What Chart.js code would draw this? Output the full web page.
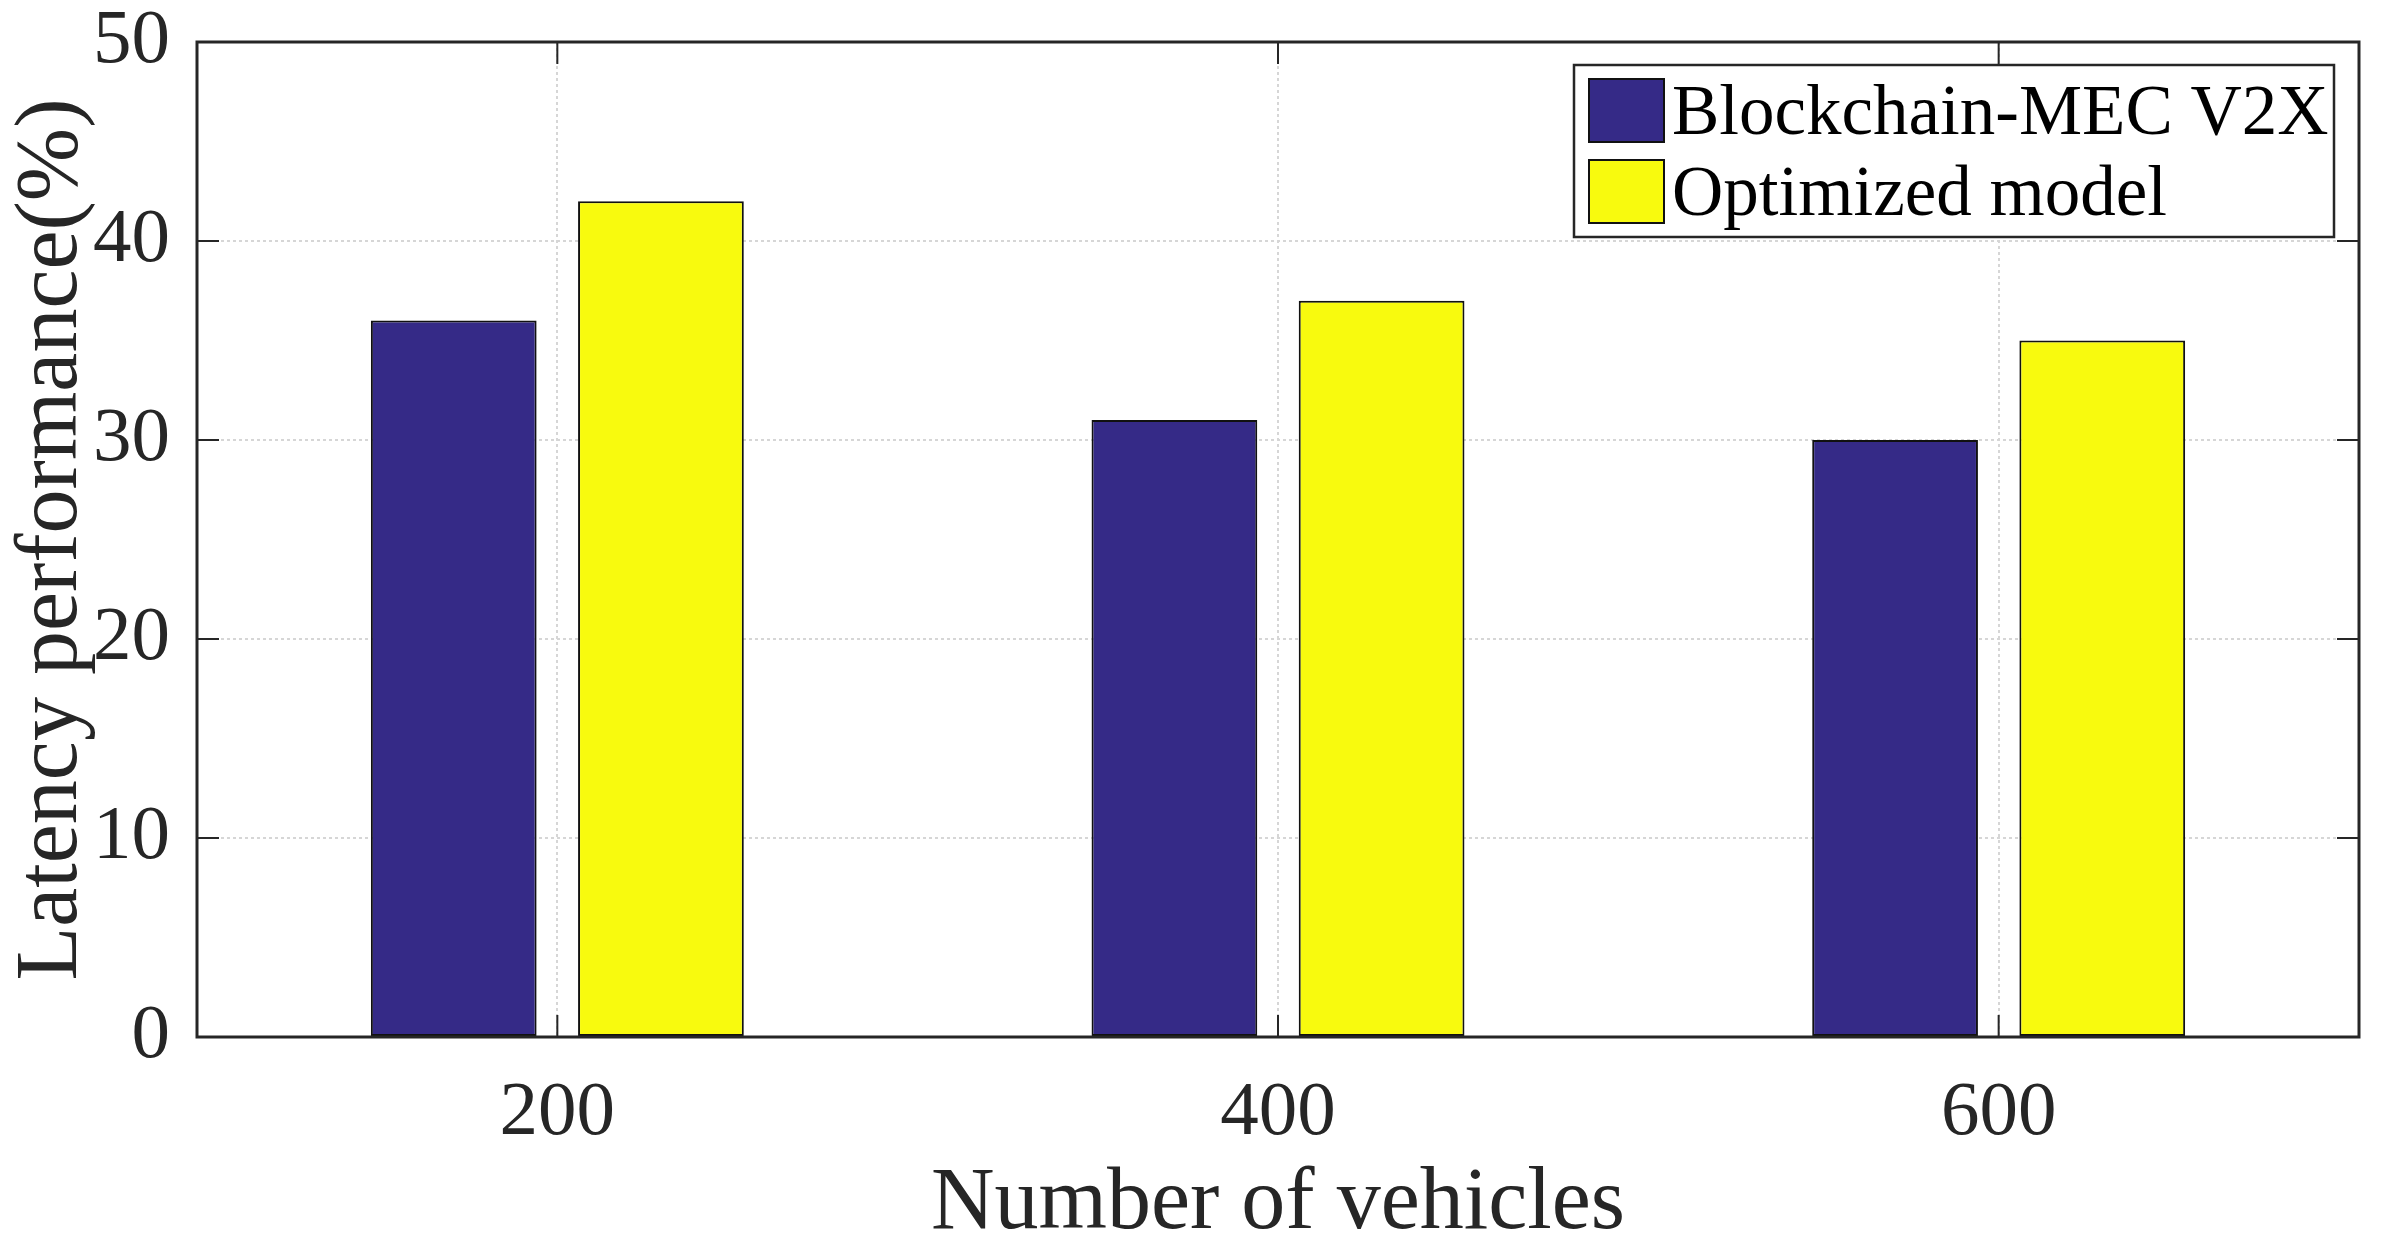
<!DOCTYPE html>
<html>
<head>
<meta charset="utf-8">
<script src="https://cdn.jsdelivr.net/npm/chart.js@4.4.0/dist/chart.umd.min.js"></script>
<style>
html, body { margin: 0; padding: 0; background: #fff; }
#wrap { width: 2385px; height: 1251px; }
</style>
</head>
<body>
<div id="wrap"><canvas id="chart"></canvas></div>
<script>
const vehicleCounts = ['200', '400', '600'];
const blockchainMec = [36, 31, 30];
const optimizedModel = [42, 37, 35];
const yTicks = [0, 10, 20, 30, 40, 50];
const seriesNames = ['Blockchain-MEC V2X', 'Optimized model'];
const seriesColors = ['#352a87', '#f8fa0e'];

const serif = '"Liberation Serif", "Times New Roman", serif';
const ink = '#262626';

// matlab style box with inward ticks
const boxPlugin = {
    id: 'box',
    afterDatasetsDraw(chart) {
        const {ctx, chartArea: a, scales: {x, y}} = chart;
        ctx.save();
        ctx.strokeStyle = ink;
        ctx.lineWidth = 2;
        ctx.beginPath();
        for (let v of yTicks) {
            let py = y.getPixelForValue(v);
            ctx.moveTo(a.left, py); ctx.lineTo(a.left + 22, py);
            ctx.moveTo(a.right, py); ctx.lineTo(a.right - 22, py);
        }
        vehicleCounts.forEach((c, i) => {
            let px = x.getPixelForValue(i);
            ctx.moveTo(px, a.bottom); ctx.lineTo(px, a.bottom - 22);
            ctx.moveTo(px, a.top); ctx.lineTo(px, a.top + 22);
        });
        ctx.stroke();
        ctx.lineWidth = 3;
        ctx.strokeRect(a.left, a.top, a.right - a.left, a.bottom - a.top);
        ctx.restore();
    }
};

// legend box in the top right corner
const legendPlugin = {
    id: 'boxLegend',
    afterDraw(chart) {
        const ctx = chart.ctx;
        const a = chart.chartArea;
        const bx = 1574, by = a.top + 23, bw = 760, bh = 172;
        ctx.save();
        ctx.fillStyle = '#fff';
        ctx.fillRect(bx, by, bw, bh);
        ctx.strokeStyle = ink;
        ctx.lineWidth = 2.5;
        ctx.strokeRect(bx, by, bw, bh);
        ctx.font = `71px ${serif}`;
        ctx.textBaseline = 'alphabetic';
        chart.data.datasets.forEach((ds, i) => {
            let sy = by + 14 + i * 81;
            ctx.fillStyle = ds.backgroundColor;
            ctx.fillRect(bx + 15, sy, 75, 63);
            ctx.lineWidth = 2;
            ctx.strokeStyle = '#111';
            ctx.strokeRect(bx + 15, sy, 75, 63);
            ctx.fillStyle = '#000';
            ctx.fillText(ds.label, bx + 98, sy + 55);
        });
        ctx.restore();
    }
};

const gridStyle = {
    display: true,
    color: '#d6d6d6',
    lineWidth: 2,
    drawTicks: false,
    offset: false
};

new Chart(document.getElementById('chart').getContext('2d'), {
    type: 'bar',
    data: {
        labels: vehicleCounts,
        datasets: [
            { label: seriesNames[0], data: blockchainMec, backgroundColor: seriesColors[0], borderColor: '#111', borderWidth: 2, borderSkipped: false },
            { label: seriesNames[1], data: optimizedModel, backgroundColor: seriesColors[1], borderColor: '#111', borderWidth: 2, borderSkipped: false }
        ]
    },
    options: {
        responsive: true,
        maintainAspectRatio: false,
        devicePixelRatio: 1,
        animation: false,
        categoryPercentage: 0.575,
        barPercentage: 0.8,
        layout: { padding: { top: 42, right: 26, left: 0, bottom: 0 } },
        plugins: {
            legend: { display: false },
            tooltip: { enabled: false }
        },
        scales: {
            x: {
                grid: gridStyle,
                border: { display: false, dash: [3, 3] },
                ticks: { color: ink, font: { family: serif, size: 77 }, padding: 31 },
                title: { display: true, text: 'Number of vehicles', color: ink, font: { family: serif, size: 88 }, padding: { top: 0, bottom: -7 } },
                afterFit: s => { s.height = 214; s.paddingLeft = 0; s.paddingRight = 0; }
            },
            y: {
                min: yTicks[0],
                max: yTicks[yTicks.length - 1],
                grid: gridStyle,
                border: { display: false, dash: [3, 3] },
                ticks: { color: ink, font: { family: serif, size: 77 }, padding: 27 },
                afterBuildTicks: s => { s.ticks = yTicks.map(v => ({ value: v })); },
                title: { display: true, text: 'Latency performance(%)', color: ink, font: { family: serif, size: 88 }, padding: 0 },
                afterFit: s => { s.width = 197; s.paddingTop = 0; s.paddingBottom = 0; }
            }
        }
    },
    plugins: [boxPlugin, legendPlugin]
});
</script>
</body>
</html>
